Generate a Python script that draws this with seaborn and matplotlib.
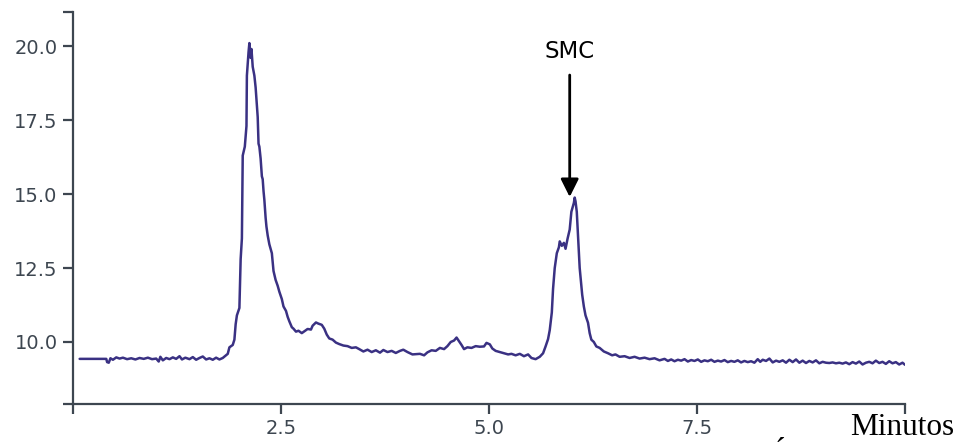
import matplotlib
matplotlib.use("Agg")
import matplotlib.pyplot as plt
from matplotlib.patches import ArrowStyle
import pandas as pd
import seaborn as sns

# Chromatogram trace: retention time (min) and detector signal
tiempo = [
    0.08, 0.40, 0.41, 0.43, 0.45, 0.48, 0.52, 0.56, 0.60, 0.65, 0.70, 0.75, 0.80,
    0.85, 0.90, 0.95, 1.00, 1.03, 1.05, 1.08, 1.12, 1.16, 1.20, 1.24, 1.28, 1.31,
    1.35, 1.40, 1.44, 1.48, 1.52, 1.56, 1.60, 1.64, 1.68, 1.72, 1.76, 1.80,
    1.86, 1.88, 1.92, 1.94, 1.955, 1.97, 2.00, 2.015, 2.03, 2.04, 2.065, 2.085,
    2.09, 2.11, 2.12, 2.135, 2.145, 2.16, 2.18, 2.195, 2.21, 2.22, 2.23, 2.24,
    2.255, 2.27, 2.28, 2.29, 2.30, 2.315, 2.325, 2.34, 2.36, 2.39, 2.41, 2.435,
    2.46, 2.48, 2.51, 2.53, 2.56, 2.58, 2.60, 2.63, 2.65, 2.68, 2.71, 2.75, 2.78,
    2.82, 2.86, 2.88, 2.92, 2.95, 2.99, 3.02, 3.05, 3.08, 3.12, 3.16, 3.20, 3.25,
    3.30, 3.35, 3.40, 3.44, 3.49, 3.54, 3.59, 3.64, 3.69, 3.73, 3.78, 3.83, 3.88,
    3.93, 3.97, 4.02, 4.08, 4.17, 4.22, 4.26, 4.31, 4.36, 4.41, 4.46, 4.50, 4.54,
    4.58, 4.61, 4.65, 4.67, 4.70, 4.74, 4.79, 4.84, 4.89, 4.94, 4.97, 5.01, 5.04,
    5.08, 5.13, 5.18, 5.23, 5.27, 5.32, 5.37, 5.42, 5.47, 5.51, 5.56, 5.61, 5.65,
    5.68, 5.71, 5.73, 5.755, 5.77, 5.79, 5.815, 5.84, 5.85, 5.875, 5.90, 5.92,
    5.945, 5.97, 5.99, 6.02, 6.03, 6.04, 6.055, 6.07, 6.09, 6.12, 6.14, 6.16,
    6.19, 6.21, 6.23, 6.26, 6.29, 6.33, 6.38, 6.43, 6.48, 6.52, 6.57, 6.63, 6.69,
    6.75, 6.81, 6.87, 6.93, 6.99, 7.05, 7.11, 7.15, 7.19, 7.23, 7.27, 7.31, 7.35,
    7.39, 7.43, 7.47, 7.51, 7.55, 7.59, 7.63, 7.67, 7.71, 7.75, 7.79, 7.83, 7.87,
    7.91, 7.95, 7.99, 8.03, 8.07, 8.11, 8.15, 8.19, 8.23, 8.26, 8.29, 8.33, 8.37,
    8.41, 8.45, 8.49, 8.53, 8.57, 8.61, 8.65, 8.69, 8.73, 8.77, 8.81, 8.85, 8.89,
    8.93, 8.97, 9.01, 9.05, 9.09, 9.13, 9.17, 9.21, 9.25, 9.29, 9.33, 9.37, 9.41,
    9.45, 9.49, 9.53, 9.57, 9.61, 9.65, 9.69, 9.73, 9.77, 9.81, 9.85, 9.89, 9.93,
    9.97, 10.00,
]
senal = [
    9.43, 9.43, 9.32, 9.30, 9.45, 9.40, 9.48, 9.44, 9.47, 9.42, 9.45, 9.41, 9.46,
    9.43, 9.47, 9.42, 9.44, 9.34, 9.50, 9.38, 9.46, 9.42, 9.48, 9.43, 9.52, 9.41,
    9.47, 9.42, 9.49, 9.40, 9.46, 9.51, 9.41, 9.45, 9.40, 9.47, 9.41, 9.46,
    9.60, 9.82, 9.90, 10.08, 10.60, 10.90, 11.15, 12.80, 13.50, 16.30, 16.60, 17.30,
    19.00, 19.80, 20.10, 19.60, 19.90, 19.30, 19.00, 18.60, 18.00, 17.60, 16.70, 16.60,
    16.20, 15.60, 15.50, 15.10, 14.80, 14.20, 13.90, 13.60, 13.30, 13.00, 12.40, 12.10,
    11.90, 11.70, 11.45, 11.20, 11.05, 10.85, 10.70, 10.50, 10.45, 10.35, 10.38, 10.30, 10.36,
    10.44, 10.42, 10.55, 10.66, 10.62, 10.58, 10.45, 10.25, 10.12, 10.08, 9.98, 9.93, 9.88,
    9.86, 9.80, 9.82, 9.76, 9.68, 9.74, 9.66, 9.72, 9.64, 9.73, 9.66, 9.70, 9.63,
    9.70, 9.74, 9.66, 9.58, 9.60, 9.55, 9.65, 9.72, 9.70, 9.80, 9.76, 9.86, 10.00,
    10.05, 10.15, 9.98, 9.90, 9.76, 9.82, 9.80, 9.86, 9.84, 9.85, 9.97, 9.92, 9.78,
    9.70, 9.66, 9.62, 9.58, 9.60, 9.55, 9.60, 9.52, 9.58, 9.46, 9.42, 9.50, 9.62,
    9.85, 10.10, 10.40, 11.00, 11.80, 12.50, 13.00, 13.20, 13.40, 13.25, 13.35, 13.15,
    13.50, 13.80, 14.40, 14.70, 14.88, 14.75, 14.40, 13.60, 12.50, 11.60, 11.20, 10.90,
    10.65, 10.30, 10.08, 10.00, 9.85, 9.80, 9.68, 9.62, 9.55, 9.58, 9.50, 9.52, 9.46,
    9.50, 9.44, 9.47, 9.42, 9.45, 9.38, 9.43, 9.36, 9.41, 9.35, 9.40, 9.37, 9.42,
    9.34, 9.39, 9.36, 9.41, 9.33, 9.38, 9.35, 9.40, 9.33, 9.37, 9.34, 9.39, 9.32,
    9.36, 9.33, 9.38, 9.31, 9.36, 9.32, 9.35, 9.30, 9.42, 9.33, 9.40, 9.36, 9.44,
    9.31, 9.37, 9.33, 9.38, 9.30, 9.40, 9.32, 9.41, 9.30, 9.37, 9.29, 9.36, 9.31,
    9.38, 9.28, 9.33, 9.30, 9.29, 9.31, 9.28, 9.30, 9.27, 9.31, 9.25, 9.32, 9.27,
    9.34, 9.24, 9.30, 9.33, 9.28, 9.37, 9.29, 9.33, 9.26, 9.35, 9.28, 9.32, 9.24,
    9.30, 9.23,
]

x_ticks = [0.0, 2.5, 5.0, 7.5, 10.0]
x_tick_labels = ["", "2.5", "5.0", "7.5", ""]
y_min, y_max = 7.905, 21.15
y_ticks = [y_min, 10.0, 12.5, 15.0, 17.5, 20.0, y_max]
y_tick_labels = ["", "10.0", "12.5", "15.0", "17.5", "20.0", ""]

pico_nombre = "SMC"
pico_tiempo = 5.97
pico_senal = 14.90

sns.set_style("white")
plt.rcParams["font.family"] = ["DejaVu Sans"]

axis_col = "#3d4650"
line_col = "#3a3183"

fig = plt.figure(figsize=(9.58, 4.43), dpi=100)
ax = fig.add_axes([73 / 958, 1 - 404 / 443, (905 - 73) / 958, (404 - 12) / 443])

df = pd.DataFrame({"tiempo": tiempo, "senal": senal})
sns.lineplot(data=df, x="tiempo", y="senal", ax=ax, color=line_col,
             linewidth=1.8, estimator=None, sort=False)

ax.set_xlim(0, 10)
ax.set_ylim(y_min, y_max)
ax.set_xticks(x_ticks)
ax.set_xticklabels(x_tick_labels)
ax.set_yticks(y_ticks)
ax.set_yticklabels(y_tick_labels)
ax.set_xlabel("")
ax.set_ylabel("")

for side in ("top", "right"):
    ax.spines[side].set_visible(False)
for side in ("left", "bottom"):
    ax.spines[side].set_color(axis_col)
    ax.spines[side].set_linewidth(1.6)

ax.tick_params(axis="both", direction="out", length=7.5, width=1.6,
               color=axis_col, labelcolor=axis_col, labelsize=14, pad=3.5)
ax.tick_params(axis="x", bottom=True)
ax.tick_params(axis="y", left=True)

# Arrow marking the sulfamethoxazole peak
ax.annotate("", xy=(pico_tiempo, pico_senal), xytext=(pico_tiempo, 19.02),
            arrowprops=dict(arrowstyle=ArrowStyle("-|>", head_length=0.4, head_width=0.2),
                            mutation_scale=27, color="black", lw=2.0,
                            shrinkA=0, shrinkB=0))
ax.text(pico_tiempo, 19.80, pico_nombre, ha="center", va="center",
        fontsize=16.5, color="black")

fig.text(850 / 958, 0.003, "Minutos", ha="left", va="bottom",
         fontsize=22.5, family=["Liberation Serif"], color="black")
fig.text(770 / 958, 1 - 466 / 443, "É", ha="left", va="baseline",
         fontsize=23.5, family=["Liberation Serif"], color="black")

fig.savefig("out.png", dpi=100)
